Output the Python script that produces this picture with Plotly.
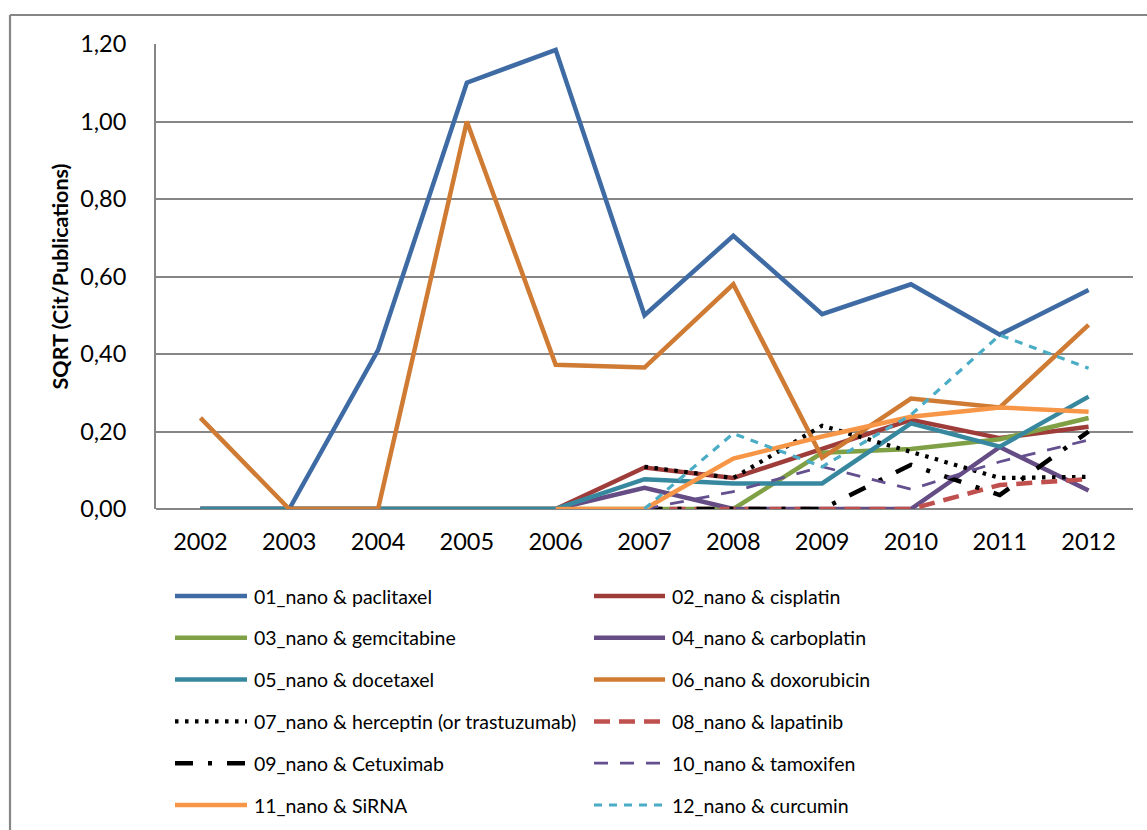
import plotly.graph_objects as go

years = ["2002", "2003", "2004", "2005", "2006", "2007", "2008", "2009", "2010", "2011", "2012"]

paclitaxel = [0, 0, 0.41, 1.10, 1.185, 0.50, 0.705, 0.503, 0.58, 0.45, 0.565]
cisplatin = [0, 0, 0, 0, 0, 0.107, 0.08, 0.155, 0.23, 0.183, 0.212]
gemcitabine = [0, 0, 0, 0, 0, 0, 0, 0.145, 0.155, 0.18, 0.235]
carboplatin = [0, 0, 0, 0, 0, 0.055, 0, 0, 0, 0.16, 0.048]
docetaxel = [0, 0, 0, 0, 0, 0.077, 0.066, 0.066, 0.221, 0.161, 0.29]
doxorubicin = [0.235, 0, 0, 1.00, 0.372, 0.365, 0.58, 0.132, 0.285, 0.262, 0.475]
herceptin = [None, None, None, None, None, 0.109, 0.08, 0.215, 0.147, 0.08, 0.083]
lapatinib = [None, None, None, None, None, 0, 0, 0, 0, 0.062, 0.077]
cetuximab = [None, None, None, None, None, 0, 0, 0, 0.114, 0.036, 0.20]
tamoxifen = [None, None, None, None, None, 0, 0.045, 0.109, 0.051, 0.122, 0.178]
sirna = [None, None, None, None, 0, 0, 0.13, 0.187, 0.238, 0.262, 0.251]
curcumin = [None, None, None, None, None, 0, 0.195, 0.109, 0.243, 0.449, 0.363]

series_names = [
    "01_nano & paclitaxel", "02_nano & cisplatin",
    "03_nano & gemcitabine", "04_nano & carboplatin",
    "05_nano & docetaxel", "06_nano & doxorubicin",
    "07_nano & herceptin (or trastuzumab)", "08_nano & lapatinib",
    "09_nano & Cetuximab", "10_nano & tamoxifen",
    "11_nano & SiRNA", "12_nano & curcumin",
]
series_values = [paclitaxel, cisplatin, gemcitabine, carboplatin, docetaxel, doxorubicin,
                 herceptin, lapatinib, cetuximab, tamoxifen, sirna, curcumin]

# line styles: (colour, width, dash)
styles = [
    ("#3F6BA4", 4.5, "solid"),
    ("#9E3C3A", 4.5, "solid"),
    ("#7FA045", 4.5, "solid"),
    ("#654C85", 4.5, "solid"),
    ("#37889F", 4.5, "solid"),
    ("#CF7B33", 4.5, "solid"),
    ("#000000", 4.2, "3.5px,6.5px"),
    ("#C0504D", 4.5, "16px,9px"),
    ("#000000", 4.5, "18px,15px,4px,15px"),
    ("#65508F", 2.8, "14px,12px"),
    ("#F79646", 4.5, "solid"),
    ("#4BACC6", 3.2, "8px,7px"),
]

FONT = "Lato"
GRID = "#868686"

# plot area in pixels (used to place the legend block below it)
L, R, T, B = 156, 1133, 44, 509
W, H = R - L, B - T


def px_x(x):
    return (x - L) / W


def px_y(y):
    return (B - y) / H


fig = go.Figure()
for name, vals, (color, width, dash) in zip(series_names, series_values, styles):
    fig.add_trace(go.Scatter(
        x=years, y=vals, name=name, mode="lines",
        line=dict(color=color, width=width, dash=dash),
        connectgaps=False, showlegend=False,
    ))

shapes = []
annotations = []

# two-column legend below the plot
col_x = [(175, 247, 252), (594, 665, 670)]
row_y0, row_dy = 596, 41.8
for i, (name, (color, width, dash)) in enumerate(zip(series_names, styles)):
    row, col = divmod(i, 2)
    x0, x1, tx = col_x[col]
    y = row_y0 + row * row_dy
    shapes.append(dict(type="line", xref="paper", yref="paper",
                       x0=px_x(x0), x1=px_x(x1), y0=px_y(y), y1=px_y(y),
                       line=dict(color=color, width=width, dash=dash)))
    annotations.append(dict(xref="paper", yref="paper", x=px_x(tx), y=px_y(y),
                            text=name, showarrow=False, xanchor="left", yanchor="middle",
                            font=dict(family=FONT, size=19.5, color="#000000")))

# outer chart frame (top and left edges)
shapes.append(dict(type="line", xref="paper", yref="paper",
                   x0=px_x(10), x1=px_x(1150), y0=px_y(15), y1=px_y(15),
                   line=dict(color=GRID, width=1.8)))
shapes.append(dict(type="line", xref="paper", yref="paper",
                   x0=px_x(10), x1=px_x(10), y0=px_y(15), y1=px_y(835),
                   line=dict(color=GRID, width=2.2)))

fig.update_layout(
    width=1147, height=830,
    margin=dict(l=L, r=1147 - R, t=T, b=830 - B),
    paper_bgcolor="white", plot_bgcolor="white",
    separators=",.",
    font=dict(family=FONT, size=23, color="#000000"),
    shapes=shapes, annotations=annotations,
    xaxis=dict(
        type="category", showgrid=False, showline=False, zeroline=False,
        ticks="", tickfont=dict(family=FONT, size=23.5), ticklabelstandoff=16,
        range=[-0.5, 10.5],
    ),
    yaxis=dict(
        range=[0, 1.2], tickvals=[0, 0.2, 0.4, 0.6, 0.8, 1.0, 1.2], tickformat=".2f",
        showgrid=True, gridcolor=GRID, gridwidth=1.8,
        showline=True, linecolor=GRID, linewidth=1.8,
        zeroline=True, zerolinecolor=GRID, zerolinewidth=1.8,
        ticks="", tickfont=dict(family=FONT, size=23.5), ticklabelstandoff=23,
        title=dict(text="<b>SQRT (Cit/Publications)</b>", standoff=6,
                   font=dict(family=FONT, size=21.5)),
    ),
)

fig.write_html("out.html")
